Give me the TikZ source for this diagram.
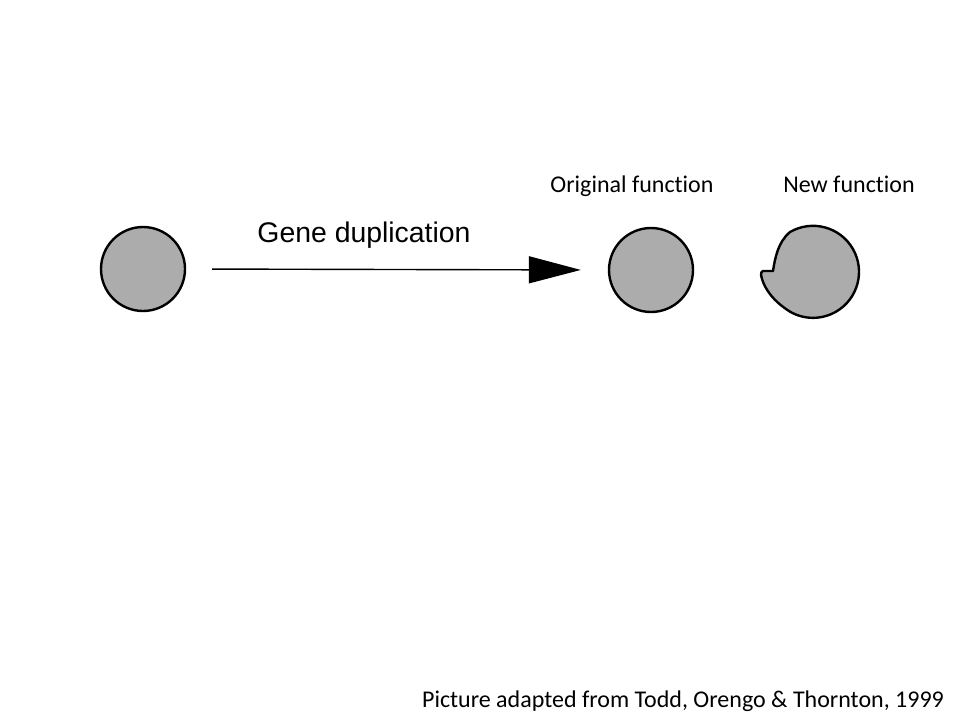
\documentclass[tikz,border=0pt]{standalone}
\usepackage{fontspec}
\setmainfont{Carlito}[Ligatures=NoCommon]
\newfontfamily\arialfont{Liberation Sans}
\usetikzlibrary{arrows.meta}
\tikzset{
    protein/.style={circle, draw=black, line width=2.4pt, fill=gray!65, minimum size=84pt, inner sep=0pt},
    caption/.style={anchor=base, font=\fontsize{24}{28}\selectfont}
}
\begin{document}
\begin{tikzpicture}[x=1pt, y=-1pt]
    \useasboundingbox (0,0) rectangle (960,720);
    \node[protein] (orig) at (143,269) {};
    \node[protein] (copy) at (651,270) {};
    \draw[black, line width=1.4pt, -{Triangle[length=52pt, width=27pt]}, shorten <=26pt, shorten >=27pt] (orig.east) -- (copy.west);
    \node[anchor=base, font=\arialfont\fontsize{28.4}{32}\selectfont] (dup) at (364,242) {Gene duplication};
    \draw[black, line width=2.4pt, fill=gray!65, line join=round] (790,232) arc[start angle=240, end angle=480, radius=46] .. controls (773,301) and (765,289) .. (762,279) .. controls (760,273) and (761,270) .. (766,271) -- (773,271) .. controls (775,258) and (778,242) .. (790,232) -- cycle;
    \node[caption] (origlabel) at (632,192) {Original function};
    \node[caption] (newlabel) at (849,192) {New function};
    \node[caption] (source) at (683,707) {Picture adapted from Todd, Orengo \& Thornton, 1999};
\end{tikzpicture}
\end{document}
